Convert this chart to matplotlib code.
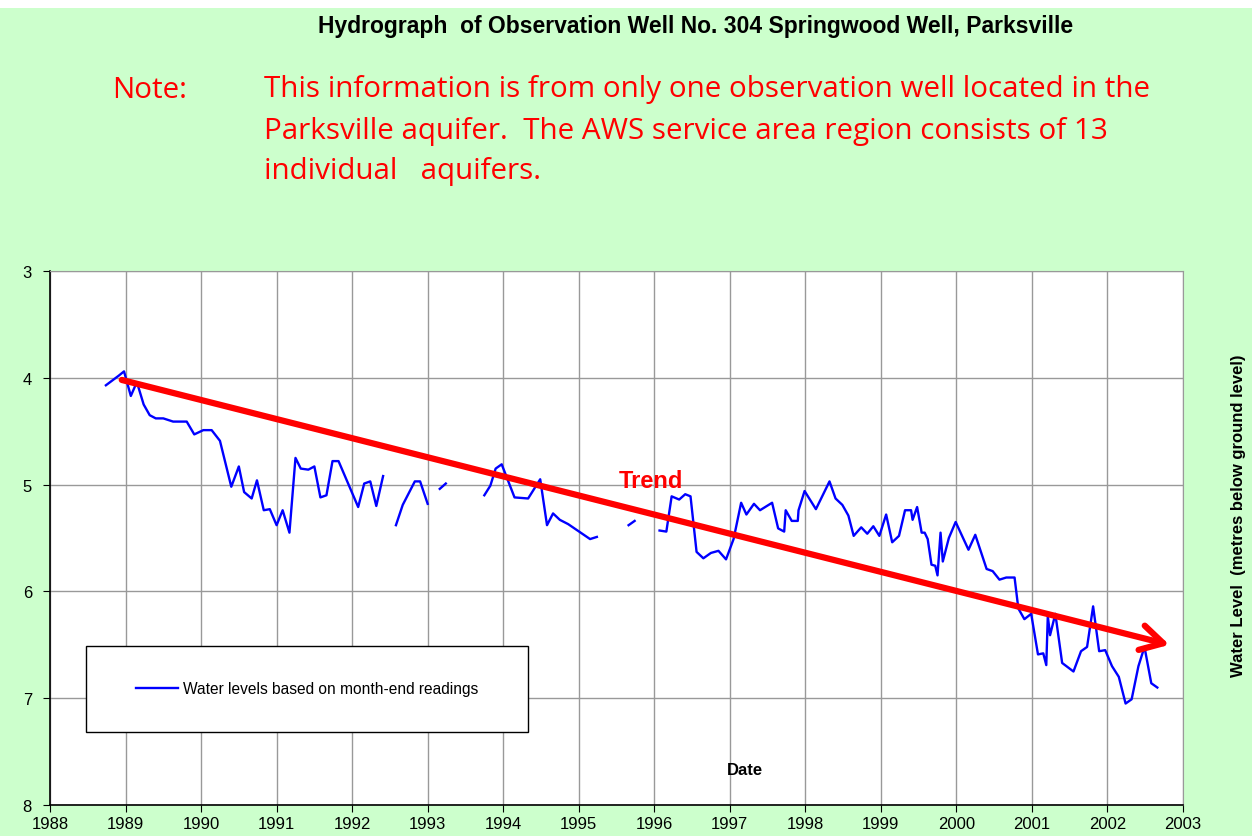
import numpy as np
import matplotlib
matplotlib.use("Agg")
import matplotlib.pyplot as plt
from matplotlib.patches import Rectangle

nan = np.nan

# month-end readings (decimal year, metres below ground); NaN = missing months
dates = [
    1988.74, 1988.91, 1988.98, 1989.07, 1989.15, 1989.24, 1989.32, 1989.40,
    1989.50, 1989.63, 1989.81, 1989.91, 1990.03, 1990.14, 1990.25, 1990.40,
    1990.50, 1990.57, 1990.67, 1990.74, 1990.83, 1990.91, 1991.00, 1991.08,
    1991.17, 1991.25, 1991.32, 1991.42, 1991.50, 1991.58, 1991.66, 1991.74,
    1991.82, 1992.08, 1992.16, 1992.24, 1992.32, 1992.41, 1992.50,
    1992.58, 1992.67, 1992.83, 1992.90, 1993.00, 1993.08,
    1993.16, 1993.24, 1993.50,
    1993.75, 1993.83, 1993.90, 1993.98, 1994.15, 1994.33, 1994.41, 1994.49,
    1994.58, 1994.66, 1994.75, 1994.86, 1995.15, 1995.24, 1995.45,
    1995.66, 1995.74, 1995.90,
    1996.07, 1996.16, 1996.23, 1996.33, 1996.41, 1996.48, 1996.56, 1996.65,
    1996.75, 1996.85, 1996.95, 1997.05, 1997.15, 1997.22, 1997.32, 1997.40,
    1997.56, 1997.64, 1997.72, 1997.74, 1997.82, 1997.90, 1997.91, 1997.99,
    1998.14, 1998.32, 1998.40, 1998.49, 1998.57, 1998.64, 1998.74, 1998.82,
    1998.90, 1998.98, 1999.07, 1999.15, 1999.24, 1999.32, 1999.40, 1999.42,
    1999.48, 1999.54, 1999.58, 1999.62, 1999.67, 1999.72, 1999.75, 1999.79,
    1999.82, 1999.90, 1999.99, 2000.16, 2000.25, 2000.40, 2000.48, 2000.57,
    2000.66, 2000.77, 2000.82, 2000.90, 2000.99, 2001.08, 2001.15, 2001.19,
    2001.21, 2001.24, 2001.31, 2001.40, 2001.55, 2001.65, 2001.73, 2001.81,
    2001.89, 2001.97, 2002.06, 2002.15, 2002.24, 2002.32, 2002.41, 2002.49,
    2002.58, 2002.66,
]
levels = [
    4.07, 3.98, 3.94, 4.17, 4.04, 4.25, 4.35, 4.38,
    4.38, 4.41, 4.41, 4.53, 4.49, 4.49, 4.59, 5.02,
    4.83, 5.07, 5.13, 4.96, 5.24, 5.23, 5.38, 5.24,
    5.45, 4.75, 4.85, 4.86, 4.83, 5.12, 5.10, 4.78,
    4.78, 5.21, 4.99, 4.97, 5.20, 4.92, nan,
    5.38, 5.19, 4.97, 4.97, 5.18, nan,
    5.04, 4.99, nan,
    5.10, 5.01, 4.85, 4.81, 5.12, 5.13, 5.04, 4.95,
    5.38, 5.27, 5.33, 5.37, 5.51, 5.49, nan,
    5.38, 5.34, nan,
    5.43, 5.44, 5.11, 5.14, 5.09, 5.11, 5.63, 5.69,
    5.64, 5.62, 5.70, 5.51, 5.17, 5.28, 5.18, 5.24,
    5.17, 5.41, 5.44, 5.24, 5.34, 5.34, 5.24, 5.06,
    5.23, 4.97, 5.13, 5.19, 5.29, 5.48, 5.40, 5.46,
    5.39, 5.48, 5.28, 5.54, 5.48, 5.24, 5.24, 5.33,
    5.21, 5.45, 5.45, 5.51, 5.75, 5.76, 5.85, 5.45,
    5.72, 5.50, 5.35, 5.61, 5.47, 5.79, 5.81, 5.89,
    5.87, 5.87, 6.16, 6.26, 6.21, 6.59, 6.58, 6.69,
    6.23, 6.41, 6.21, 6.67, 6.75, 6.56, 6.52, 6.14,
    6.56, 6.55, 6.70, 6.80, 7.05, 7.01, 6.70, 6.52,
    6.86, 6.90,
]

trend_x = [1988.95, 2002.82]
trend_y = [4.02, 6.50]

years = list(range(1988, 2004))
depth_ticks = [3, 4, 5, 6, 7, 8]

GREEN = "#CCFFCC"
SANS = ["Liberation Sans", "DejaVu Sans"]

fig = plt.figure(figsize=(12.52, 8.37), dpi=100)
fig.patch.set_facecolor("white")
fig.patches.append(Rectangle((0, 0), 1, 1 - 9 / 837, transform=fig.transFigure,
                             facecolor=GREEN, edgecolor="none", zorder=-10))

ax = fig.add_axes([50 / 1252, 1 - 806 / 837, 1133 / 1252, 534 / 837])
ax.set_facecolor("white")

ax.plot(dates, levels, color="#0000FF", lw=1.7, zorder=3,
        label="Water levels based on month-end readings")

ax.annotate("", xy=(trend_x[1], trend_y[1]), xytext=(trend_x[0], trend_y[0]),
            arrowprops=dict(arrowstyle="->,head_length=0.8,head_width=0.45",
                            color="#FF0000", lw=4.5, mutation_scale=20,
                            shrinkA=0, shrinkB=0),
            zorder=4)
ax.text(1995.96, 4.96, "Trend", color="#FF0000", fontsize=17, fontweight="bold",
        family=SANS, ha="center", va="center")

ax.set_xlim(1988, 2003)
ax.set_ylim(8, 3)
ax.set_xticks(years)
ax.set_yticks(depth_ticks)
ax.grid(True, color="#999999", lw=1.0)
ax.set_axisbelow(True)
ax.tick_params(direction="out", length=5, labelsize=12, colors="black", pad=3)
ax.tick_params(axis="y", pad=8)
for lab in ax.get_xticklabels() + ax.get_yticklabels():
    lab.set_family(SANS)
for s in ("top", "right"):
    ax.spines[s].set_color("#999999")
for s in ("left", "bottom"):
    ax.spines[s].set_color("black")
    ax.spines[s].set_linewidth(1.2)

ax.text(0.613, 0.067, "Date", transform=ax.transAxes, ha="center", va="center",
        fontsize=12, fontweight="bold", family=SANS)

# legend box
ax.add_patch(Rectangle((0.032, 0.137), 0.39, 0.161, transform=ax.transAxes,
                       facecolor="white", edgecolor="black", lw=1.0, zorder=5))
leg = ax.legend(loc="center", bbox_to_anchor=(0.032, 0.137, 0.39, 0.161),
                frameon=False, handlelength=2.7, handletextpad=0.3,
                prop={"family": SANS, "size": 11.2})
leg.set_zorder(6)

fig.text(1239 / 1252, 1 - 516 / 837, "Water Level  (metres below ground level)",
         rotation=90, ha="center", va="center", fontsize=12, fontweight="bold",
         family=SANS)

fig.text(696 / 1252, 1 - 27 / 837,
         "Hydrograph  of Observation Well No. 304 Springwood Well, Parksville",
         ha="center", va="center", fontsize=16.5, fontweight="bold", family=SANS)

NOTE = ["Open Sans", "DejaVu Sans"]
fig.text(112 / 1252, 1 - 90 / 837, "Note:", color="#FF0000", fontsize=21.3,
         family=NOTE, ha="left", va="center")
note_lines = [
    "This information is from only one observation well located in the",
    "Parksville aquifer.  The AWS service area region consists of 13",
    "individual   aquifers.",
]
for i, line in enumerate(note_lines):
    fig.text(264 / 1252, 1 - (90 + 41 * i) / 837, line, color="#FF0000",
             fontsize=21.3, family=NOTE, ha="left", va="center")

fig.savefig("out.png", dpi=100, facecolor=fig.get_facecolor())
